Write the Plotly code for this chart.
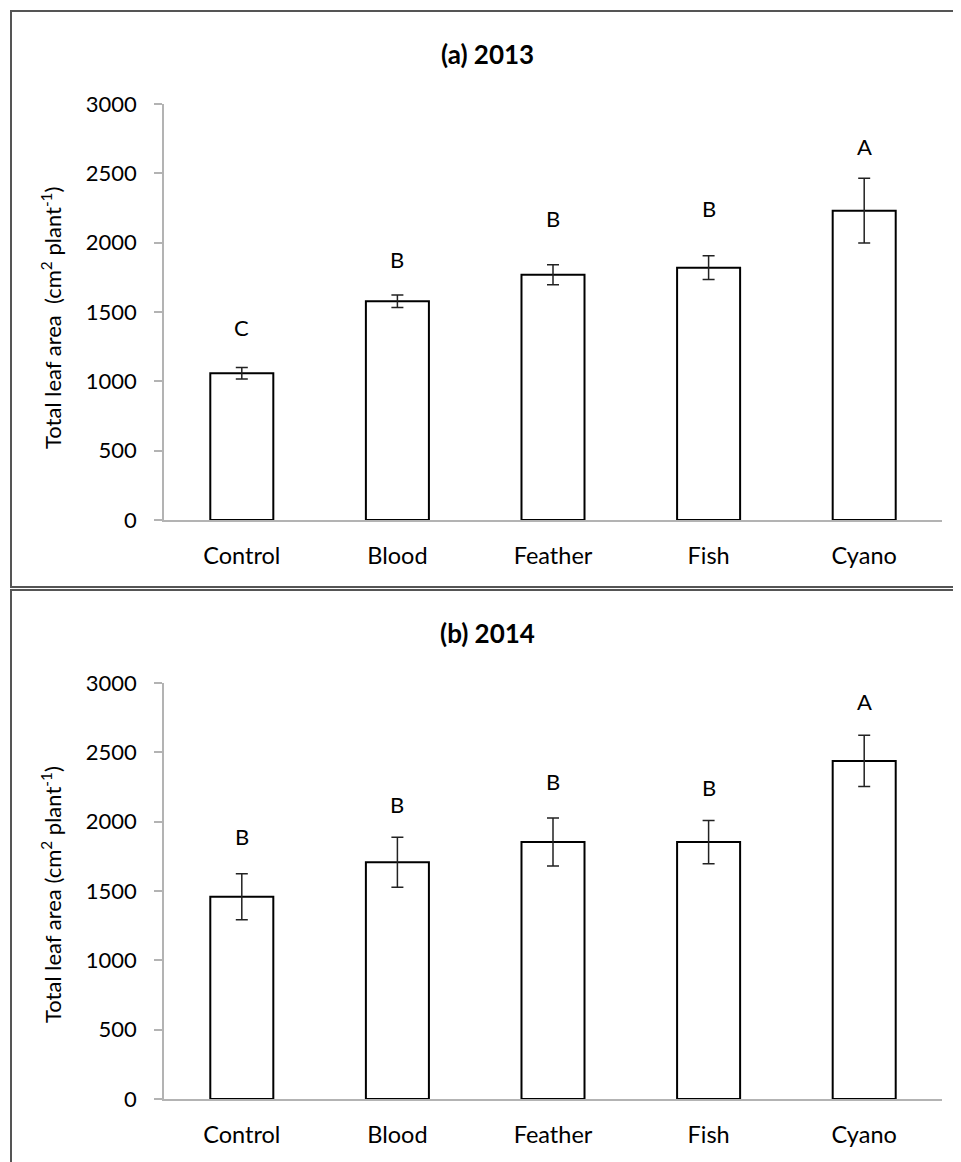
import plotly.graph_objects as go

categories = ["Control", "Blood", "Feather", "Fish", "Cyano"]

# Panel (a) 2013
vals_2013 = [1058, 1577, 1769, 1820, 2231]
err_2013 = [41, 45, 72, 86, 234]
letters_2013 = ["C", "B", "B", "B", "A"]
letter_y_2013 = [1385, 1882, 2171, 2243, 2690]

# Panel (b) 2014
vals_2014 = [1459, 1707, 1853, 1853, 2438]
err_2014 = [166, 180, 173, 156, 185]
letters_2014 = ["B", "B", "B", "B", "A"]
letter_y_2014 = [1892, 2127, 2288, 2243, 2865]

y_ticks = [0, 500, 1000, 1500, 2000, 2500, 3000]

W, H = 961, 1162
OFF = 8  # page body margin offset
FONT = "Lato"
FS = 22
FSX = 23.5


def px_x(x):
    return (x - OFF) / W


def px_y(y):
    return 1 - (y - OFF) / H


fig = go.Figure()

panels = [
    ("x", "y", vals_2013, err_2013, letters_2013, letter_y_2013),
    ("x2", "y2", vals_2014, err_2014, letters_2014, letter_y_2014),
]

for xa, ya, vals, errs, letters, ly in panels:
    fig.add_trace(go.Bar(
        x=categories, y=vals, xaxis=xa, yaxis=ya,
        marker=dict(color="white", line=dict(color="black", width=2)),
        error_y=dict(type="data", array=errs, visible=True, color="#222222",
                     thickness=1.5, width=6),
        width=0.405, showlegend=False, hoverinfo="skip",
    ))
    for c, t, yy in zip(categories, letters, ly):
        fig.add_annotation(x=c, y=yy, xref=xa, yref=ya, text=t, showarrow=False,
                           font=dict(family=FONT, size=FS, color="black"),
                           xanchor="center", yanchor="middle")

axis_common = dict(
    showgrid=False, zeroline=False, showline=True, linecolor="#b3b3b3", linewidth=1.5,
    automargin=False,
)

fig.update_layout(
    template="none",
    width=W, height=H, margin=dict(l=0, r=0, t=0, b=0, pad=0),
    paper_bgcolor="white", plot_bgcolor="white",
    font=dict(family=FONT, size=FS, color="black"),
    xaxis=dict(domain=[px_x(164), px_x(942)], anchor="y", ticks="",
               tickfont=dict(family=FONT, size=FSX), ticklabelstandoff=14, **axis_common),
    yaxis=dict(domain=[px_y(520), px_y(104)], anchor="x", range=[0, 3000],
               tickvals=y_ticks, ticks="outside", ticklen=8, tickcolor="#b3b3b3",
               tickwidth=1.5, ticklabelstandoff=13,
               tickfont=dict(family=FONT, size=FS), **axis_common),
    xaxis2=dict(domain=[px_x(164), px_x(942)], anchor="y2", ticks="",
                tickfont=dict(family=FONT, size=FSX), ticklabelstandoff=14, **axis_common),
    yaxis2=dict(domain=[px_y(1099), px_y(683)], anchor="x2", range=[0, 3000],
                tickvals=y_ticks, ticks="outside", ticklen=8, tickcolor="#b3b3b3",
                tickwidth=1.5, ticklabelstandoff=13,
                tickfont=dict(family=FONT, size=FS), **axis_common),
)

# Titles
fig.add_annotation(x=px_x(487), y=px_y(54), xref="paper", yref="paper",
                   text="<b>(a) 2013</b>", showarrow=False,
                   font=dict(family=FONT, size=26, color="black"),
                   xanchor="center", yanchor="middle")
fig.add_annotation(x=px_x(487), y=px_y(633), xref="paper", yref="paper",
                   text="<b>(b) 2014</b>", showarrow=False,
                   font=dict(family=FONT, size=26, color="black"),
                   xanchor="center", yanchor="middle")

# Y-axis titles
fig.add_annotation(x=px_x(51), y=px_y(318), xref="paper", yref="paper",
                   text="Total leaf area  (cm<sup>2</sup> plant<sup>-1</sup>)",
                   showarrow=False, textangle=-90,
                   font=dict(family=FONT, size=FS, color="black"),
                   xanchor="center", yanchor="middle")
fig.add_annotation(x=px_x(51), y=px_y(895), xref="paper", yref="paper",
                   text="Total leaf area (cm<sup>2</sup> plant<sup>-1</sup>)",
                   showarrow=False, textangle=-90,
                   font=dict(family=FONT, size=FS, color="black"),
                   xanchor="center", yanchor="middle")

# Panel borders
fig.add_shape(type="rect", xref="paper", yref="paper",
              x0=px_x(11), x1=px_x(975), y0=px_y(587), y1=px_y(11),
              line=dict(color="#555555", width=2), fillcolor="rgba(0,0,0,0)")
fig.add_shape(type="rect", xref="paper", yref="paper",
              x0=px_x(11), x1=px_x(975), y0=px_y(1180), y1=px_y(590),
              line=dict(color="#555555", width=2), fillcolor="rgba(0,0,0,0)")

fig.write_html("out.html")
